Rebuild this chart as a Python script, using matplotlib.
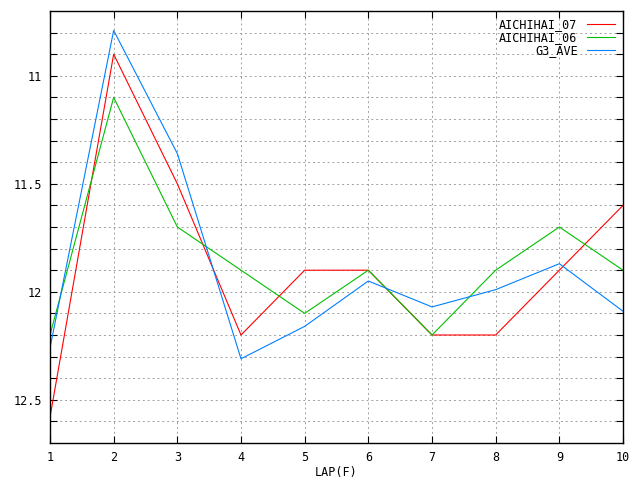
import matplotlib
matplotlib.use("Agg")
import matplotlib.pyplot as plt
import numpy as np

laps = [1, 2, 3, 4, 5, 6, 7, 8, 9, 10]
aichihai_07 = [12.58, 10.90, 11.50, 12.20, 11.90, 11.90, 12.20, 12.20, 11.90, 11.60]
aichihai_06 = [12.20, 11.10, 11.70, 11.90, 12.10, 11.90, 12.20, 11.90, 11.70, 11.90]
g3_ave = [12.26, 10.79, 11.36, 12.31, 12.16, 11.95, 12.07, 11.99, 11.87, 12.09]

plt.rcParams['font.family'] = ['DejaVu Sans Mono']
plt.rcParams['font.size'] = 8.5

fig = plt.figure(figsize=(6.4, 4.8), dpi=100)
ax = fig.add_axes([50/640, 1 - 443/480, 573/640, 432/480])

ax.plot(laps, aichihai_07, color="#ff0000", lw=0.8, label="AICHIHAI_07")
ax.plot(laps, aichihai_06, color="#00c000", lw=0.8, label="AICHIHAI_06")
ax.plot(laps, g3_ave, color="#0080ff", lw=0.8, label="G3_AVE")

ax.set_xlim(1, 10)
ax.set_ylim(12.7, 10.7)
ax.set_xticks(laps)
yt = np.round(np.arange(10.8, 12.65, 0.1), 1)
ax.set_yticks(yt)
ax.set_yticklabels([("%g" % v) if abs(v * 2 - round(v * 2)) < 1e-6 else "" for v in yt])
ax.tick_params(direction="in", top=True, right=True, length=5, width=0.8, pad=6)
ax.grid(True, color="#a0a0a0", linestyle=(0, (2, 3)), lw=0.7)
for s in ax.spines.values():
    s.set_linewidth(1.0)

ax.set_xlabel("LAP(F)", labelpad=1)
leg = ax.legend(loc="upper right", frameon=False, markerfirst=False,
                handlelength=2.4, handletextpad=0.8, labelspacing=0.0,
                borderaxespad=0.0, bbox_to_anchor=(0.995, 0.995))
for t in leg.get_texts():
    t.set_ha("right")

fig.savefig("out.png", dpi=100)
